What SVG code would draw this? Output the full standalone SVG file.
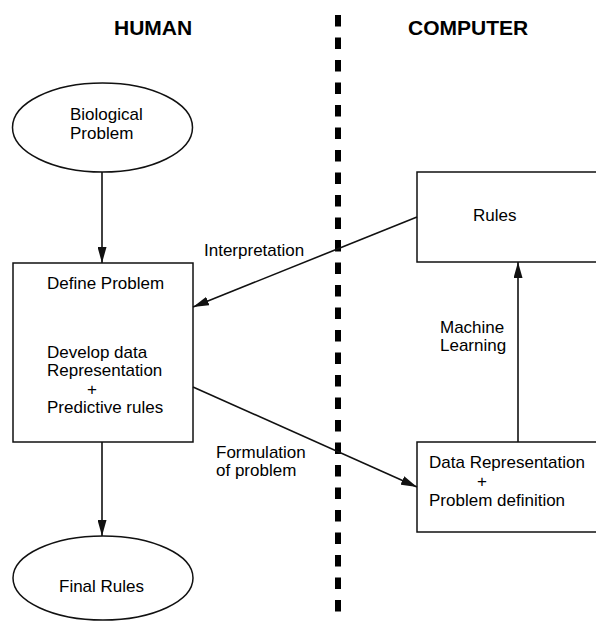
<svg xmlns="http://www.w3.org/2000/svg" width="596" height="621" viewBox="0 0 596 621">
  <defs>
    <style>
      .bg { fill: #ffffff; }
      .shape { fill: none; stroke: #111111; stroke-width: 1.5; }
      .conn { fill: none; stroke: #111111; stroke-width: 1.6; marker-end: url(#arrow); }
      .divider { fill: none; stroke: #000000; stroke-width: 6; stroke-dasharray: 11.5 11; }
      .title { font-family: "Liberation Sans", Arial, Helvetica, sans-serif; font-size: 21px; font-weight: bold; fill: #000000; }
      .label { font-family: "Liberation Sans", Arial, Helvetica, sans-serif; font-size: 17px; fill: #000000; }
    </style>
    <marker id="arrow" viewBox="0 0 16 9" refX="16" refY="4.5" markerWidth="16" markerHeight="9" markerUnits="userSpaceOnUse" orient="auto">
      <path d="M0,0 L16,4.5 L0,9 Z" fill="#111111"/>
    </marker>
  </defs>

  <rect class="bg" x="0" y="0" width="596" height="621"/>

  <!-- column headings and the dividing line -->
  <g id="headings">
    <text class="title" x="114" y="35">HUMAN</text>
    <text class="title" x="408" y="35">COMPUTER</text>
  </g>
  <line id="divider" class="divider" x1="338" y1="15" x2="338" y2="612"/>

  <!-- nodes -->
  <g id="biological-problem">
    <ellipse class="shape" cx="102.5" cy="127.5" rx="90" ry="44.5"/>
    <text class="label" x="70" y="120">Biological</text>
    <text class="label" x="70" y="139">Problem</text>
  </g>

  <g id="define-problem">
    <rect class="shape" x="13" y="263" width="180" height="179"/>
    <text class="label" x="47" y="289">Define Problem</text>
    <text class="label" x="47" y="358">Develop data</text>
    <text class="label" x="47" y="376">Representation</text>
    <text class="label" x="87" y="395">+</text>
    <text class="label" x="47" y="413">Predictive rules</text>
  </g>

  <g id="final-rules">
    <ellipse class="shape" cx="103" cy="578" rx="90" ry="42"/>
    <text class="label" x="59" y="592">Final Rules</text>
  </g>

  <!-- the two computer-side boxes run past the right edge of the page -->
  <g id="rules">
    <rect class="shape" x="417" y="172" width="185" height="90"/>
    <text class="label" x="473" y="221">Rules</text>
  </g>

  <g id="data-representation">
    <rect class="shape" x="417" y="442" width="185" height="90"/>
    <text class="label" x="429" y="468">Data Representation</text>
    <text class="label" x="477" y="487">+</text>
    <text class="label" x="429" y="506">Problem definition</text>
  </g>

  <!-- connectors -->
  <g id="connectors">
    <line class="conn" x1="102" y1="172" x2="102" y2="263"/>
    <line class="conn" x1="417" y1="217" x2="193" y2="307"/>
    <line class="conn" x1="193" y1="387" x2="417" y2="487"/>
    <line class="conn" x1="518" y1="442" x2="518" y2="262"/>
    <line class="conn" x1="102" y1="442" x2="102" y2="536"/>
  </g>

  <!-- connector labels -->
  <g id="connector-labels">
    <text class="label" x="204" y="256">Interpretation</text>
    <text class="label" x="440" y="333">Machine</text>
    <text class="label" x="440" y="351">Learning</text>
    <text class="label" x="216" y="458">Formulation</text>
    <text class="label" x="216" y="476">of problem</text>
  </g>
</svg>
